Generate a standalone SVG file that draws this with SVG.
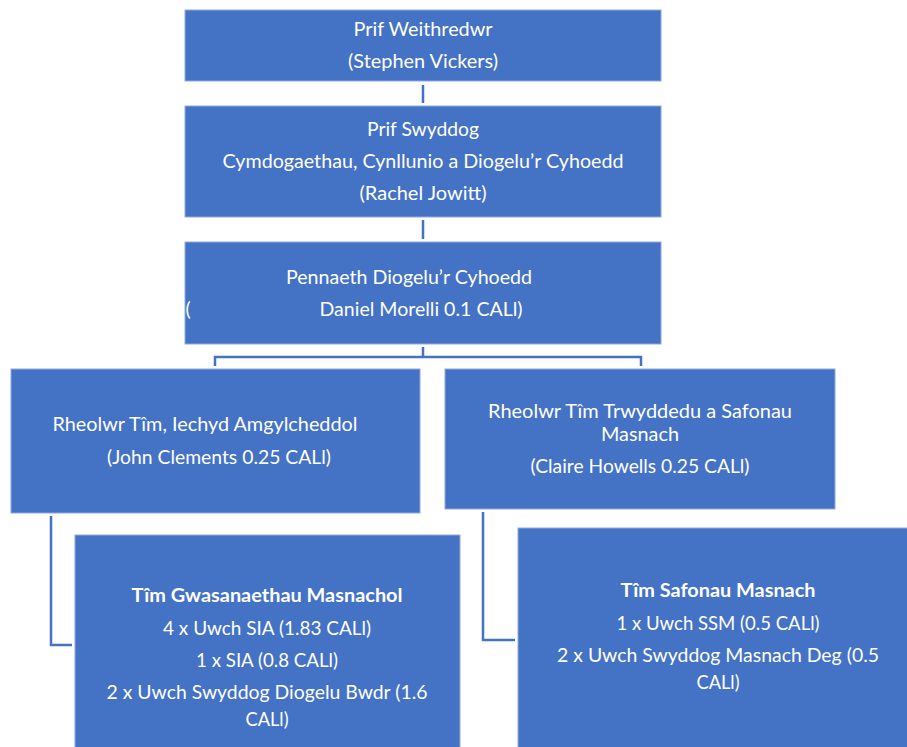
<svg xmlns="http://www.w3.org/2000/svg" width="907" height="747" viewBox="0 0 907 747">
<style>
.box{fill:#4472C4;stroke:#8FA9DC;stroke-width:1}
.t{font-family:Lato,"Liberation Sans",Arial,sans-serif;font-size:19.5px;fill:#FFFFFF;text-anchor:middle}
.b{font-weight:bold}
.c{fill:none;stroke:#4472C4;stroke-width:2.5}
</style>
<rect width="907" height="747" fill="#FFFFFF"/>
<g id="connectors">
<line class="c" x1="423" y1="85" x2="423" y2="103"/>
<line class="c" x1="423" y1="220" x2="423" y2="239"/>
<polyline class="c" points="423,347 423,357"/>
<polyline class="c" points="215,366 215,357 641,357 641,366"/>
<polyline class="c" points="51,516 51,645 72,645"/>
<polyline class="c" points="483,512 483,640 515,640"/>
</g>
<g id="n1">
<rect class="box" x="185" y="10" width="476" height="71"/>
<text class="t" x="423" y="36" textLength="139" lengthAdjust="spacingAndGlyphs">Prif Weithredwr</text>
<text class="t" x="423" y="68" textLength="150" lengthAdjust="spacingAndGlyphs">(Stephen Vickers)</text>
</g>
<g id="n2">
<rect class="box" x="185" y="106" width="476" height="111"/>
<text class="t" x="423" y="136" textLength="112" lengthAdjust="spacingAndGlyphs">Prif Swyddog</text>
<text class="t" x="423" y="168" textLength="401" lengthAdjust="spacingAndGlyphs">Cymdogaethau, Cynllunio a Diogelu’r Cyhoedd</text>
<text class="t" x="423" y="200" textLength="127" lengthAdjust="spacingAndGlyphs">(Rachel Jowitt)</text>
</g>
<g id="n3">
<rect class="box" x="185" y="242" width="476" height="102"/>
<text class="t" x="409" y="284" textLength="246" lengthAdjust="spacingAndGlyphs">Pennaeth Diogelu’r Cyhoedd</text>
<text class="t" x="188" y="316">(</text>
<text class="t" x="421" y="316" textLength="203" lengthAdjust="spacingAndGlyphs">Daniel Morelli 0.1 CALl)</text>
</g>
<g id="n4">
<rect class="box" x="11" y="369" width="409" height="144"/>
<text class="t" x="205" y="431" textLength="305" lengthAdjust="spacingAndGlyphs">Rheolwr Tîm, Iechyd Amgylcheddol</text>
<text class="t" x="219" y="464" textLength="224" lengthAdjust="spacingAndGlyphs">(John Clements 0.25 CALl)</text>
</g>
<g id="n5">
<rect class="box" x="445" y="369" width="390" height="140"/>
<text class="t" x="640" y="418" textLength="304" lengthAdjust="spacingAndGlyphs">Rheolwr Tîm Trwyddedu a Safonau</text>
<text class="t" x="640" y="441" textLength="78" lengthAdjust="spacingAndGlyphs">Masnach</text>
<text class="t" x="640" y="473" textLength="219" lengthAdjust="spacingAndGlyphs">(Claire Howells 0.25 CALl)</text>
</g>
<g id="n6">
<rect class="box" x="75" y="535" width="385" height="220"/>
<text class="t b" x="267" y="602" textLength="271" lengthAdjust="spacingAndGlyphs">Tîm Gwasanaethau Masnachol</text>
<text class="t" x="267" y="635" textLength="208" lengthAdjust="spacingAndGlyphs">4 x Uwch SIA (1.83 CALl)</text>
<text class="t" x="267" y="667" textLength="142" lengthAdjust="spacingAndGlyphs">1 x SIA (0.8 CALl)</text>
<text class="t" x="267" y="699" textLength="321" lengthAdjust="spacingAndGlyphs">2 x Uwch Swyddog Diogelu Bwdr (1.6</text>
<text class="t" x="267" y="726" textLength="43" lengthAdjust="spacingAndGlyphs">CALl)</text>
</g>
<g id="n7">
<rect class="box" x="518" y="528" width="402" height="227"/>
<text class="t b" x="718" y="597" textLength="195" lengthAdjust="spacingAndGlyphs">Tîm Safonau Masnach</text>
<text class="t" x="718" y="630" textLength="203" lengthAdjust="spacingAndGlyphs">1 x Uwch SSM (0.5 CALl)</text>
<text class="t" x="718" y="662" textLength="322" lengthAdjust="spacingAndGlyphs">2 x Uwch Swyddog Masnach Deg (0.5</text>
<text class="t" x="718" y="689" textLength="43" lengthAdjust="spacingAndGlyphs">CALl)</text>
</g>
</svg>
